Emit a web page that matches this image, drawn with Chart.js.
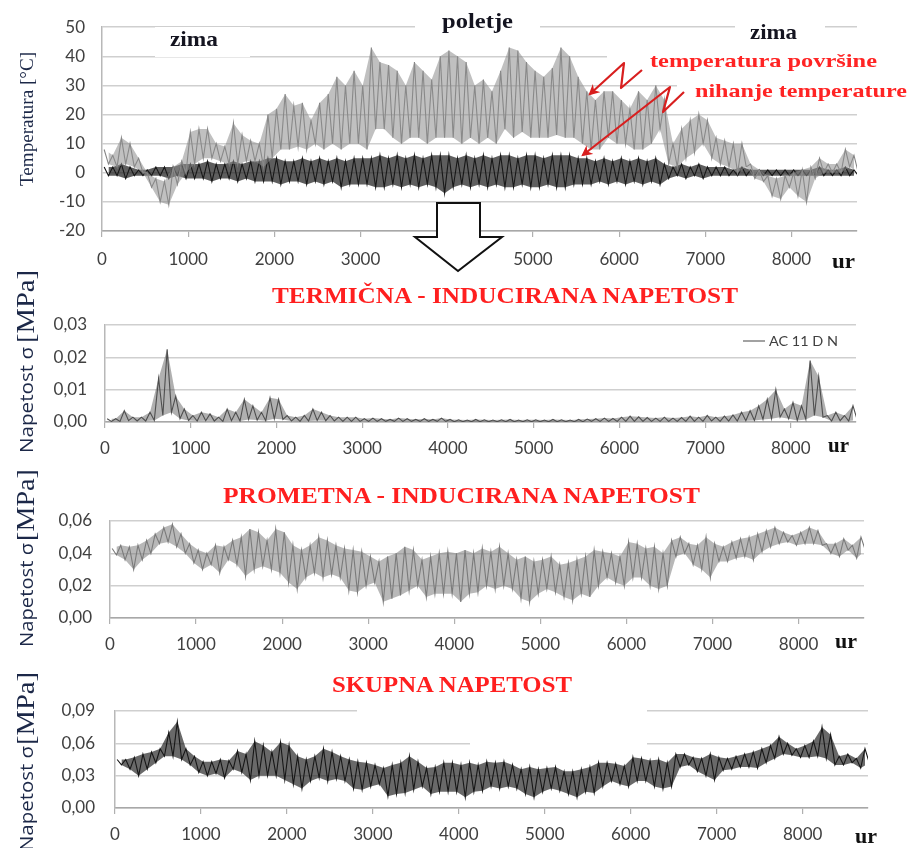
<!DOCTYPE html>
<html><head><meta charset="utf-8">
<script src="https://cdn.jsdelivr.net/npm/chart.js@4.4.1/dist/chart.umd.min.js"></script>
<style>
html,body{margin:0;padding:0;background:#fff;}
#wrap{position:relative;width:912px;height:848px;overflow:hidden;background:#fff;}
#wrap canvas{position:absolute;left:0;}
#ov{position:absolute;left:0;top:0;}
</style></head><body>
<div id="wrap">
<canvas id="c1" width="912" height="280" style="top:0px"></canvas>
<canvas id="c2" width="912" height="180" style="top:280px"></canvas>
<canvas id="c3" width="912" height="190" style="top:460px"></canvas>
<canvas id="c4" width="912" height="198" style="top:650px"></canvas>
<svg id="ov" width="912" height="848" xmlns="http://www.w3.org/2000/svg">
  <!-- white boxes of text frames hiding gridlines -->
  <rect x="155" y="27" width="95" height="30" fill="#fff"/>
  <rect x="415" y="12" width="125" height="24" fill="#fff"/>
  <rect x="735" y="14" width="90" height="26" fill="#fff"/>
  <rect x="607" y="42" width="253" height="28" fill="#fff"/>
  <rect x="677" y="72" width="183" height="28" fill="#fff"/>
  <rect x="357" y="705" width="290" height="11" fill="#fff"/>
  <rect x="470" y="738" width="177" height="10" fill="#fff"/>
  <g font-family="'Liberation Serif','Times New Roman',serif" font-weight="bold">
    <text x="170" y="46" font-size="21" fill="#141420" textLength="48" lengthAdjust="spacingAndGlyphs">zima</text>
    <text x="442" y="28" font-size="21" fill="#141420" textLength="71" lengthAdjust="spacingAndGlyphs">poletje</text>
    <text x="750" y="39" font-size="21" fill="#141420" textLength="47" lengthAdjust="spacingAndGlyphs">zima</text>
    <text x="650" y="67" font-size="19" fill="#ff2424" textLength="227" lengthAdjust="spacingAndGlyphs">temperatura površine</text>
    <text x="695" y="97" font-size="19" fill="#ff2424" textLength="212" lengthAdjust="spacingAndGlyphs">nihanje temperature</text>
    <text x="272" y="303" font-size="24" fill="#ff1f1f" textLength="466" lengthAdjust="spacingAndGlyphs">TERMIČNA - INDUCIRANA NAPETOST</text>
    <text x="223" y="503" font-size="24" fill="#ff1f1f" textLength="477" lengthAdjust="spacingAndGlyphs">PROMETNA - INDUCIRANA NAPETOST</text>
    <text x="332" y="692" font-size="23" fill="#ff1f1f" textLength="240" lengthAdjust="spacingAndGlyphs">SKUPNA NAPETOST</text>
    <text x="832" y="268" font-size="22" fill="#111" textLength="23" lengthAdjust="spacingAndGlyphs">ur</text>
    <text x="828" y="452" font-size="22" fill="#111" textLength="21" lengthAdjust="spacingAndGlyphs">ur</text>
    <text x="835" y="648" font-size="22" fill="#111" textLength="22" lengthAdjust="spacingAndGlyphs">ur</text>
    <text x="855" y="843" font-size="22" fill="#111" textLength="22" lengthAdjust="spacingAndGlyphs">ur</text>
  </g>
  <!-- y axis titles -->
  <text transform="translate(33,186) rotate(-90)" font-family="'Liberation Serif','Times New Roman',serif" font-size="19" fill="#1c2848" textLength="134" lengthAdjust="spacingAndGlyphs">Temperatura [°C]</text>
  <g fill="#1c2848">
    <text transform="translate(33,453) rotate(-90)" font-family="'Open Sans','Liberation Sans',sans-serif" font-size="19" textLength="106" lengthAdjust="spacingAndGlyphs">Napetost σ</text>
    <text transform="translate(34,343) rotate(-90)" font-family="'Liberation Serif','Times New Roman',serif" font-size="26" textLength="73" lengthAdjust="spacingAndGlyphs">[MPa]</text>
    <text transform="translate(33,647) rotate(-90)" font-family="'Open Sans','Liberation Sans',sans-serif" font-size="19" textLength="104" lengthAdjust="spacingAndGlyphs">Napetost σ</text>
    <text transform="translate(34,541) rotate(-90)" font-family="'Liberation Serif','Times New Roman',serif" font-size="26" textLength="72" lengthAdjust="spacingAndGlyphs">[MPa]</text>
    <text transform="translate(33,851) rotate(-90)" font-family="'Open Sans','Liberation Sans',sans-serif" font-size="19" textLength="105" lengthAdjust="spacingAndGlyphs">Napetost σ</text>
    <text transform="translate(34,745) rotate(-90)" font-family="'Liberation Serif','Times New Roman',serif" font-size="26" textLength="73" lengthAdjust="spacingAndGlyphs">[MPa]</text>
  </g>
  <!-- legend panel 2 -->
  <line x1="743" y1="341" x2="765" y2="341" stroke="#707070" stroke-width="1.3"/>
  <text x="769" y="346" font-family="Lato,'Open Sans',sans-serif" font-size="13" fill="#404040" textLength="69" lengthAdjust="spacingAndGlyphs">AC 11 D N</text>
  <!-- red arrows -->
  <defs>
    <marker id="ah" viewBox="0 0 10 10" refX="8" refY="5" markerWidth="5" markerHeight="5" orient="auto">
      <path d="M0,0 L10,5 L0,10 L3,5 z" fill="#d81f1f"/>
    </marker>
  </defs>
  <polyline points="642,70 621,88 624,63 590,94" fill="none" stroke="#d81f1f" stroke-width="2.2" stroke-linejoin="round" marker-end="url(#ah)"/>
  <polyline points="684,92 663,112 670,87 583,155" fill="none" stroke="#d81f1f" stroke-width="2.2" stroke-linejoin="round" marker-end="url(#ah)"/>
  <!-- big outlined arrow -->
  <polygon points="437,203 480,203 480,237 502,237 458,271 415,237 437,237" fill="#fff" stroke="#111" stroke-width="2"/>
</svg>
</div>
<script>
// ---------- categories (start hour of each 100-hour bin) ----------
const hours = [0,100,200,300,400,500,600,700,800,900,1000,1100,1200,1300,1400,1500,1600,1700,1800,1900,
2000,2100,2200,2300,2400,2500,2600,2700,2800,2900,3000,3100,3200,3300,3400,3500,3600,3700,3800,3900,
4000,4100,4200,4300,4400,4500,4600,4700,4800,4900,5000,5100,5200,5300,5400,5500,5600,5700,5800,5900,
6000,6100,6200,6300,6400,6500,6600,6700,6800,6900,7000,7100,7200,7300,7400,7500,7600,7700,7800,7900,
8000,8100,8200,8300,8400,8500,8600,8700];

// ---------- tick labels ----------
const xTicksTop = [0,1000,2000,3000,5000,6000,7000,8000];
const xTicks = [0,1000,2000,3000,4000,5000,6000,7000,8000];
const yTicksTemp = [-20,-10,0,10,20,30,40,50];
const yTicksThermal = [0,0.01,0.02,0.03];
const yTicksTraffic = [0,0.02,0.04,0.06];
const yTicksTotal = [0,0.03,0.06,0.09];

// ---------- series: per-bin upper / lower envelope ----------
const surfaceTempHi = [8,6,12,10,5,0,-2,-3,2,4,14,15,15,10,9,17,13,11,10,20,
22,27,23,24,18,24,27,33,30,35,30,43,38,37,35,30,38,35,32,40,
42,40,38,30,32,28,35,43,42,38,35,33,36,43,40,33,28,25,28,28,
25,22,28,25,30,25,10,15,18,20,18,12,11,10,10,3,1,-1,-2,-1,
0,1,2,5,3,3,8,6];
const surfaceTempLo = [3,2,3,2,0,-5,-10,-11,-4,0,3,5,5,4,3,3,4,4,2,5,
8,8,9,8,10,8,10,8,10,10,8,15,15,12,10,12,12,10,12,12,
12,10,12,10,12,10,15,12,14,12,12,12,13,12,12,10,8,8,12,10,
10,8,8,10,15,3,2,5,7,10,5,3,2,0,2,-2,-3,-8,-9,-5,
-8,-10,-2,0,0,0,2,0];
const tempSwingHi = [2,2,3,2,1,1,2,2,2,3,3,3,4,3,3,4,3,4,4,5,
5,4,4,5,4,5,4,5,4,5,5,5,6,5,6,5,6,5,6,6,
6,5,6,5,6,5,6,6,5,6,6,5,6,6,6,5,5,4,5,4,
5,4,5,4,5,3,2,3,2,3,2,2,2,1,2,1,1,1,1,1,
1,1,1,2,1,1,2,1];
const tempSwingLo = [-1,-1,-2,-1,-1,-1,-1,-2,-1,-2,-2,-2,-3,-2,-2,-3,-2,-3,-3,-3,
-4,-3,-3,-4,-3,-4,-3,-5,-4,-4,-4,-5,-5,-4,-5,-4,-5,-4,-5,-7,
-5,-4,-5,-4,-5,-4,-5,-5,-4,-5,-5,-4,-5,-5,-4,-4,-4,-3,-4,-3,
-4,-3,-4,-3,-4,-2,-1,-2,-1,-2,-1,-1,-1,-1,-1,-1,-1,-1,-1,-1,
-1,-1,-1,-1,-1,-1,-1,-1];

const thermalHi = [0.001,0.001,0.0035,0.0015,0.0015,0.003,0.0135,0.0225,0.008,0.004,
0.002,0.003,0.0025,0.0015,0.004,0.003,0.007,0.005,0.003,0.0075,
0.007,0.002,0.0015,0.002,0.004,0.003,0.002,0.0015,0.0015,0.0015,
0.001,0.0012,0.001,0.0008,0.0012,0.001,0.0008,0.001,0.0008,0.0012,
0.0008,0.0007,0.0006,0.0008,0.0007,0.0006,0.0007,0.0008,0.0006,0.0007,
0.0007,0.0006,0.0008,0.0007,0.0006,0.0008,0.0009,0.001,0.0012,0.0011,
0.0015,0.0018,0.0016,0.0014,0.0012,0.0015,0.0012,0.0014,0.0018,0.0015,
0.002,0.0015,0.0018,0.0022,0.003,0.0035,0.005,0.007,0.01,0.004,
0.006,0.005,0.019,0.014,0.002,0.003,0.002,0.005];
const thermalLo = [0.0002,0.0002,0.0004,0.0003,0.0003,0.0005,0.002,0.003,0.001,0.0005,
0.0003,0.0004,0.0003,0.0002,0.0004,0.0003,0.0008,0.0006,0.0004,0.001,
0.0008,0.0003,0.0002,0.0003,0.0005,0.0004,0.0003,0.0002,0.0002,0.0002,
0.0002,0.0002,0.0002,0.0002,0.0002,0.0002,0.0002,0.0002,0.0002,0.0002,
0.0001,0.0001,0.0001,0.0001,0.0001,0.0001,0.0001,0.0001,0.0001,0.0001,
0.0001,0.0001,0.0001,0.0001,0.0001,0.0001,0.0002,0.0002,0.0002,0.0002,
0.0002,0.0002,0.0002,0.0002,0.0002,0.0002,0.0002,0.0002,0.0002,0.0002,
0.0003,0.0002,0.0003,0.0003,0.0004,0.0005,0.0008,0.001,0.0015,0.001,
0.0005,0.0008,0.002,0.0015,0.0003,0.0004,0.0003,0.0006];

const trafficHi = [0.043,0.045,0.044,0.045,0.048,0.052,0.056,0.058,0.052,0.046,
0.042,0.040,0.045,0.044,0.048,0.050,0.055,0.053,0.048,0.055,
0.053,0.045,0.042,0.045,0.050,0.048,0.045,0.043,0.042,0.041,
0.038,0.035,0.038,0.040,0.044,0.042,0.036,0.038,0.040,0.041,
0.040,0.042,0.040,0.043,0.041,0.044,0.040,0.036,0.038,0.035,
0.036,0.038,0.033,0.034,0.036,0.038,0.042,0.041,0.040,0.038,
0.047,0.046,0.043,0.044,0.040,0.048,0.050,0.046,0.045,0.050,
0.046,0.044,0.047,0.049,0.050,0.052,0.054,0.056,0.053,0.051,
0.053,0.056,0.054,0.046,0.046,0.049,0.045,0.050];
const trafficLo = [0.039,0.036,0.030,0.036,0.040,0.046,0.047,0.044,0.040,0.034,
0.030,0.033,0.028,0.036,0.033,0.026,0.030,0.032,0.030,0.028,
0.022,0.018,0.025,0.028,0.025,0.027,0.025,0.017,0.016,0.020,
0.022,0.010,0.012,0.014,0.017,0.020,0.013,0.015,0.015,0.015,
0.010,0.015,0.016,0.020,0.018,0.020,0.018,0.012,0.010,0.015,
0.018,0.016,0.013,0.011,0.015,0.013,0.020,0.025,0.022,0.020,
0.025,0.025,0.020,0.018,0.020,0.038,0.040,0.033,0.030,0.025,
0.035,0.035,0.037,0.038,0.036,0.041,0.044,0.046,0.047,0.045,
0.046,0.046,0.045,0.040,0.038,0.042,0.037,0.042];

const totalHi = [0.045,0.045,0.047,0.050,0.052,0.055,0.070,0.080,0.055,0.048,
0.043,0.043,0.045,0.044,0.053,0.050,0.062,0.058,0.052,0.061,
0.058,0.048,0.045,0.048,0.055,0.052,0.048,0.045,0.043,0.042,
0.040,0.037,0.040,0.042,0.048,0.043,0.037,0.038,0.042,0.042,
0.040,0.042,0.040,0.043,0.042,0.043,0.040,0.036,0.038,0.036,
0.037,0.038,0.034,0.034,0.036,0.038,0.042,0.042,0.041,0.039,
0.047,0.046,0.044,0.045,0.042,0.050,0.050,0.047,0.046,0.050,
0.047,0.046,0.048,0.050,0.052,0.055,0.058,0.066,0.060,0.055,
0.058,0.062,0.075,0.068,0.048,0.050,0.046,0.055];
const totalLo = [0.040,0.036,0.030,0.036,0.042,0.048,0.048,0.045,0.040,0.033,
0.030,0.032,0.028,0.036,0.033,0.026,0.030,0.030,0.030,0.026,
0.022,0.018,0.025,0.028,0.025,0.027,0.025,0.018,0.017,0.020,
0.022,0.011,0.013,0.014,0.017,0.020,0.013,0.015,0.015,0.015,
0.010,0.015,0.016,0.020,0.018,0.020,0.018,0.013,0.010,0.015,
0.018,0.016,0.013,0.010,0.015,0.014,0.020,0.025,0.022,0.020,
0.025,0.025,0.020,0.018,0.020,0.038,0.040,0.034,0.030,0.026,
0.035,0.036,0.038,0.038,0.037,0.042,0.046,0.050,0.049,0.047,
0.047,0.048,0.046,0.040,0.040,0.042,0.037,0.042];

// zig-zag through the envelope (upper early in bin, lower late in bin) + shaded band between envelopes
function upper(hi){ return hours.map((h,i)=>({x:h+25, y:hi[i]})); }
function lower(lo){ return hours.map((h,i)=>({x:h+75, y:lo[i]})); }
function zig(hi, lo){
  const pts = [];
  hours.forEach((h,i)=>{ pts.push({x:h+25,y:hi[i]}); pts.push({x:h+75,y:lo[i]}); });
  return pts;
}
function series(hi, lo, color, band, width){
  return [
    {data:upper(hi), borderColor:'rgba(0,0,0,0)', borderWidth:0, pointRadius:0, tension:0, fill:false},
    {data:lower(lo), borderColor:'rgba(0,0,0,0)', borderWidth:0, pointRadius:0, tension:0, fill:'-1', backgroundColor:band},
    {data:zig(hi, lo), borderColor:color, borderWidth:width, pointRadius:0, tension:0, fill:false}
  ];
}

const tickFont = {family:"Lato, 'Open Sans', sans-serif", size:17};
const tickColor = '#404040';

function makeChart(id, cfg){
  const ctx = document.getElementById(id);
  return new Chart(ctx, {
    type:'line',
    data:{datasets: cfg.datasets},
    options:{
      responsive:false, animation:false, devicePixelRatio:1,
      layout:{padding:{top:cfg.padTop, right:cfg.padRight, left:0, bottom:0}},
      plugins:{legend:{display:false}, tooltip:{enabled:false}, filler:{propagate:false}},
      scales:{
        x:{type:'linear', min:0, max:8760,
          afterBuildTicks:s=>{ s.ticks = cfg.xTicks.map(v=>({value:v})); },
          afterFit:s=>{ s.height = cfg.xHeight; },
          ticks:{font:tickFont, color:tickColor, padding:cfg.xPad, maxRotation:0, autoSkip:false,
            callback:v=>String(v)},
          grid:{drawOnChartArea:false, drawTicks:true, tickLength:6, color:'#b0b0b0', lineWidth:1.2},
          border:{display:true, color:'#a8a8a8', width:1.5}
        },
        y:{min:cfg.yMin, max:cfg.yMax,
          afterBuildTicks:s=>{ s.ticks = cfg.yTicks.map(v=>({value:v})); },
          afterFit:s=>{ s.width = cfg.yWidth; },
          ticks:{font:tickFont, color:tickColor, padding:cfg.yPad, callback:cfg.fmt},
          grid:{color:'#cfcfcf', lineWidth:1.5, drawTicks:false},
          border:{display:true, color:'#b8b8b8', width:1.5}
        }
      }
    }
  });
}

const fmt2 = v => v.toFixed(2).replace('.', ',');

makeChart('c1', {
  datasets:[
    ...series(surfaceTempHi, surfaceTempLo, '#858585', 'rgba(140,140,140,0.55)', 1.1),
    ...series(tempSwingHi, tempSwingLo, '#141414', 'rgba(25,25,25,0.7)', 1.1)
  ],
  padTop:23, padRight:55, xHeight:49, yWidth:102, xPad:12, yPad:17,
  yMin:-20, yMax:50, yTicks:yTicksTemp, xTicks:xTicksTop, fmt:v=>String(v)
});
makeChart('c2', {
  datasets:series(thermalHi, thermalLo, '#4d4d4d', 'rgba(80,80,80,0.45)', 1.1),
  padTop:45, padRight:56, xHeight:38, yWidth:105, xPad:10, yPad:18,
  yMin:0, yMax:0.03, yTicks:yTicksThermal, xTicks:xTicks, fmt:fmt2
});
makeChart('c3', {
  datasets:series(trafficHi, trafficLo, '#777777', 'rgba(125,125,125,0.55)', 1.1),
  padTop:61, padRight:48, xHeight:32, yWidth:110, xPad:10, yPad:18,
  yMin:0, yMax:0.06, yTicks:yTicksTraffic, xTicks:xTicks, fmt:fmt2
});
makeChart('c4', {
  datasets:series(totalHi, totalLo, '#141414', 'rgba(25,25,25,0.65)', 1.1),
  padTop:61, padRight:44, xHeight:40, yWidth:115, xPad:10, yPad:20,
  yMin:0, yMax:0.09, yTicks:yTicksTotal, xTicks:xTicks, fmt:fmt2
});
</script>
</body></html>
